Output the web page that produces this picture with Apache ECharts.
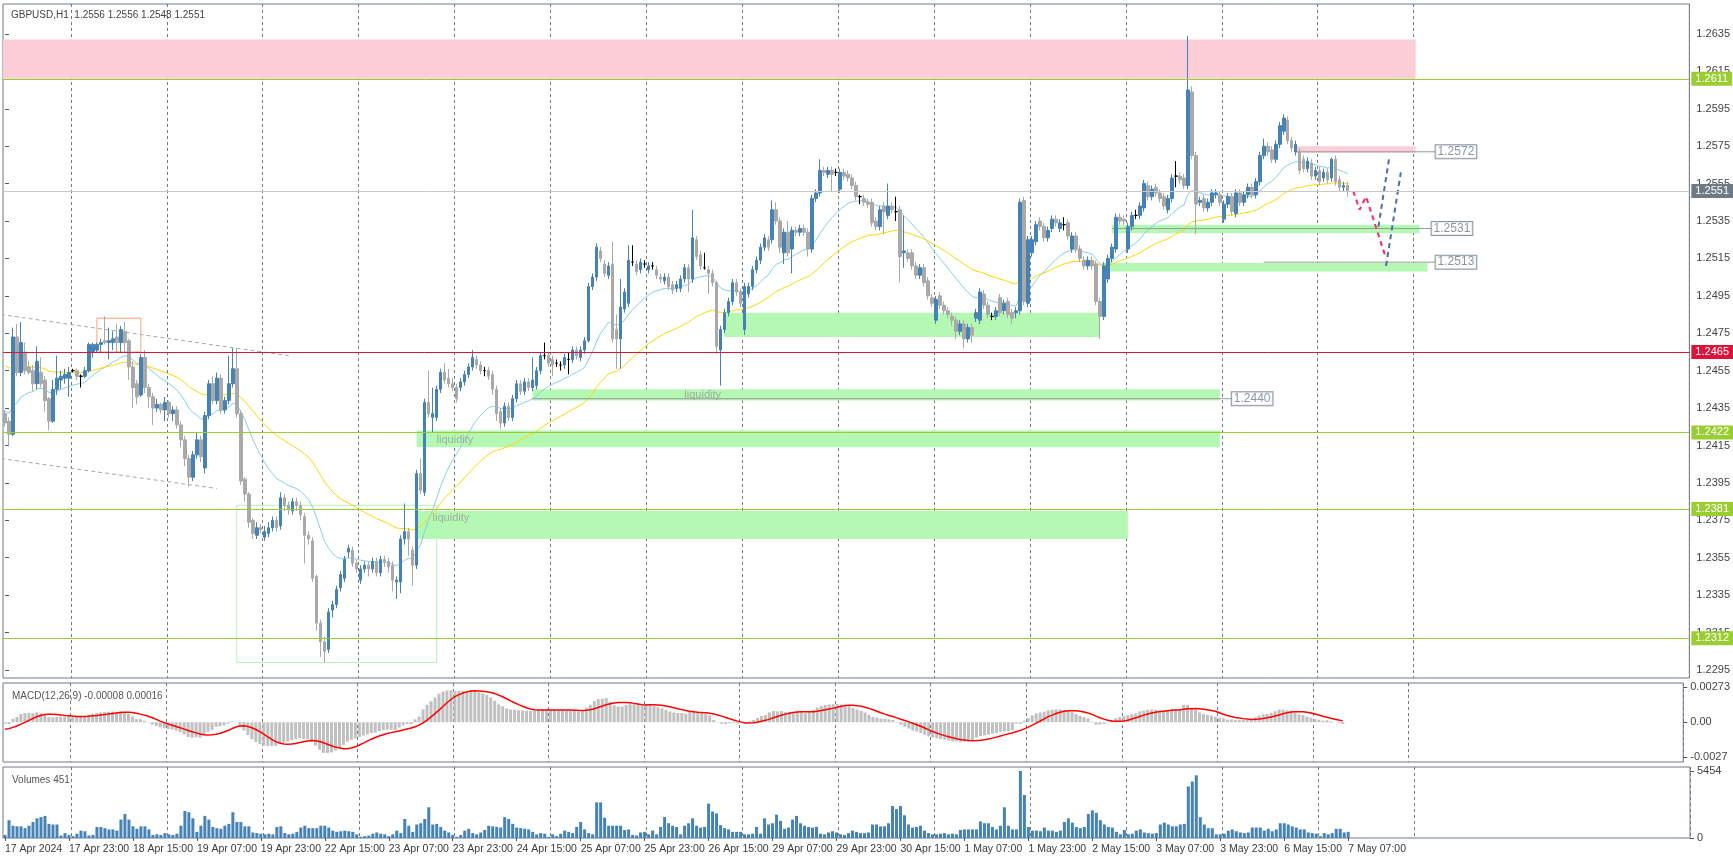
<!DOCTYPE html>
<html><head><meta charset="utf-8">
<script src="https://cdn.jsdelivr.net/npm/echarts@6/dist/echarts.min.js"></script>
<style>html,body{margin:0;padding:0;background:#fff}#c{width:1733px;height:862px}</style>
</head><body><div id="c"></div>
<script>
// candles: [open, close, low, high] in pips (1.2432 -> 2432)
const candles = [
[2432,2427,2425,2434],[2428,2421,2415,2430],[2421,2473,2420,2478],[2473,2454,2452,2480],[2454,2470,2452,2481],
[2465,2455,2453,2470],[2457,2454,2453,2460],[2455,2448,2444,2458],[2448,2460,2445,2468],[2454,2448,2446,2462],
[2450,2439,2433,2452],[2440,2428,2423,2441],[2428,2445,2427,2450],[2445,2451,2442,2463],[2450,2452,2445,2455],
[2451,2453,2448,2456],[2451,2454,2441,2457],[2455,2455,2454,2456],[2455,2452,2450,2456],[2452,2452,2446,2453],
[2452,2455,2451,2457],[2455,2469,2454,2470],[2465,2469,2462,2470],[2466,2469,2465,2470],[2469,2470,2465,2472],
[2471,2470,2469,2484],[2470,2471,2461,2478],[2470,2472,2466,2476],[2473,2470,2465,2480],[2470,2477,2465,2479],
[2476,2470,2465,2481],[2471,2457,2450,2472],[2457,2446,2435,2460],[2448,2441,2437,2450],[2442,2462,2441,2464],
[2462,2446,2443,2466],[2446,2441,2435,2448],[2441,2435,2426,2443],[2435,2437,2433,2440],[2437,2434,2432,2438],
[2434,2438,2428,2441],[2438,2432,2430,2439],[2432,2434,2428,2436],[2434,2426,2424,2436],[2426,2418,2414,2428],
[2418,2408,2404,2420],[2408,2398,2393,2410],[2398,2410,2396,2412],[2410,2418,2408,2422],[2418,2409,2406,2420],
[2403,2431,2400,2433],[2431,2448,2429,2450],[2448,2439,2437,2452],[2439,2451,2437,2454],[2451,2434,2432,2453],
[2434,2439,2432,2441],[2439,2448,2437,2463],[2448,2456,2446,2467],[2456,2432,2430,2467],[2432,2396,2394,2434],
[2397,2389,2385,2398],[2389,2374,2371,2390],[2375,2368,2365,2376],[2367,2371,2365,2374],[2371,2370,2368,2373],
[2366,2369,2364,2372],[2368,2371,2366,2374],[2371,2375,2369,2377],[2375,2371,2369,2377],[2372,2387,2370,2390],
[2387,2383,2380,2389],[2383,2381,2378,2385],[2380,2385,2378,2387],[2385,2383,2380,2387],[2383,2378,2375,2385],
[2377,2367,2352,2379],[2367,2365,2362,2369],[2364,2344,2342,2366],[2345,2320,2316,2346],[2320,2310,2302,2322],
[2310,2305,2299,2313],[2306,2326,2304,2328],[2327,2330,2323,2332],[2330,2338,2328,2340],[2339,2346,2337,2348],
[2344,2354,2342,2356],[2358,2360,2355,2362],[2359,2352,2350,2361],[2352,2349,2347,2354],[2343,2349,2341,2351],
[2349,2351,2347,2353],[2351,2349,2345,2353],[2349,2353,2347,2355],[2353,2347,2345,2355],[2347,2354,2345,2356],
[2354,2353,2350,2356],[2353,2350,2347,2355],[2351,2343,2337,2353],[2342,2343,2333,2345],[2342,2365,2336,2367],
[2365,2369,2362,2384],[2369,2365,2356,2371],[2359,2351,2340,2361],[2351,2400,2349,2402],[2400,2391,2389,2408],
[2390,2438,2388,2440],[2438,2432,2430,2455],[2430,2432,2422,2446],[2430,2445,2428,2447],[2445,2454,2443,2456],
[2454,2450,2448,2459],[2451,2448,2446,2456],[2448,2446,2444,2451],[2446,2440,2438,2448],[2446,2449,2444,2451],
[2449,2453,2447,2455],[2453,2457,2451,2459],[2457,2462,2455,2466],[2461,2458,2456,2463],[2458,2455,2453,2460],
[2455,2455,2452,2457],[2455,2452,2450,2457],[2453,2445,2442,2455],[2445,2432,2428,2447],[2433,2427,2424,2435],
[2427,2436,2425,2438],[2436,2430,2428,2438],[2430,2440,2428,2442],[2440,2448,2438,2450],[2448,2444,2442,2450],
[2444,2449,2442,2451],[2449,2446,2444,2451],[2446,2450,2444,2462],[2447,2455,2445,2457],[2455,2463,2453,2465],
[2463,2463,2461,2470],[2463,2459,2457,2465],[2461,2458,2452,2463],[2459,2459,2457,2461],[2458,2458,2455,2460],
[2458,2462,2456,2464],[2461,2461,2453,2465],[2461,2466,2459,2468],[2466,2463,2461,2468],[2462,2466,2460,2468],
[2466,2471,2464,2473],[2471,2500,2470,2502],[2500,2505,2498,2507],[2505,2521,2503,2523],[2519,2515,2513,2521],
[2512,2507,2505,2514],[2506,2511,2504,2513],[2512,2472,2470,2524],[2477,2472,2456,2485],[2472,2489,2456,2504],
[2488,2497,2486,2499],[2491,2514,2489,2522],[2513,2513,2511,2522],[2512,2508,2506,2514],[2509,2513,2507,2515],
[2512,2512,2510,2514],[2509,2511,2507,2513],[2511,2511,2509,2513],[2509,2506,2504,2511],[2505,2504,2502,2507],
[2503,2505,2501,2507],[2505,2500,2498,2507],[2501,2498,2496,2503],[2499,2501,2497,2503],[2499,2504,2497,2506],
[2504,2510,2502,2512],[2510,2504,2497,2512],[2504,2526,2502,2541],[2525,2516,2514,2527],[2517,2511,2509,2519],
[2510,2510,2509,2518],[2509,2507,2496,2511],[2507,2502,2500,2509],[2502,2468,2464,2503],[2466,2477,2447,2479],
[2477,2486,2475,2488],[2486,2492,2484,2494],[2492,2502,2490,2504],[2502,2497,2495,2504],[2497,2491,2489,2499],
[2477,2500,2474,2502],[2496,2500,2494,2502],[2500,2509,2498,2511],[2509,2514,2507,2516],[2514,2521,2512,2523],
[2521,2526,2519,2528],[2525,2521,2519,2527],[2525,2541,2523,2546],[2541,2535,2533,2545],[2535,2521,2518,2537],
[2518,2529,2512,2531],[2529,2518,2516,2535],[2520,2530,2507,2532],[2530,2529,2527,2532],[2529,2531,2527,2533],
[2531,2529,2527,2533],[2529,2520,2516,2531],[2520,2547,2518,2549],[2547,2550,2545,2552],[2550,2562,2548,2568],
[2562,2561,2559,2564],[2560,2562,2558,2564],[2562,2560,2551,2564],[2561,2561,2559,2563],[2552,2561,2550,2563],
[2561,2559,2557,2563],[2560,2558,2556,2562],[2558,2554,2552,2560],[2554,2548,2546,2556],[2548,2548,2544,2549],
[2547,2545,2543,2549],[2545,2544,2542,2547],[2545,2534,2532,2547],[2535,2532,2530,2537],[2532,2541,2530,2543],
[2543,2540,2528,2545],[2538,2543,2536,2555],[2543,2541,2539,2545],[2540,2540,2535,2548],[2541,2516,2502,2543],
[2518,2519,2510,2538],[2518,2515,2513,2520],[2518,2511,2509,2520],[2511,2506,2504,2513],[2506,2510,2504,2512],
[2510,2502,2500,2512],[2503,2495,2493,2505],[2494,2491,2489,2496],[2482,2493,2480,2495],[2495,2490,2488,2497],
[2490,2487,2485,2492],[2487,2485,2483,2489],[2484,2482,2479,2486],[2482,2476,2472,2484],[2476,2480,2474,2482],
[2480,2472,2467,2482],[2472,2478,2470,2480],[2478,2474,2470,2480],[2483,2486,2481,2488],[2482,2497,2480,2499],
[2496,2490,2488,2498],[2490,2485,2483,2492],[2484,2484,2482,2486],[2484,2487,2482,2489],[2494,2486,2484,2496],
[2487,2491,2485,2493],[2492,2485,2483,2494],[2486,2483,2480,2488],[2486,2487,2483,2489],[2487,2545,2485,2547],
[2546,2492,2490,2548],[2491,2525,2489,2527],[2518,2525,2516,2527],[2524,2533,2522,2535],[2535,2532,2530,2537],
[2532,2526,2524,2534],[2526,2530,2524,2532],[2531,2536,2529,2538],[2536,2534,2532,2538],[2531,2534,2529,2536],
[2533,2533,2530,2537],[2534,2527,2525,2536],[2520,2527,2518,2529],[2527,2520,2518,2529],[2520,2515,2513,2522],
[2514,2511,2509,2516],[2511,2514,2509,2516],[2514,2511,2509,2516],[2512,2492,2490,2514],[2492,2484,2472,2494],
[2484,2511,2482,2513],[2504,2515,2502,2517],[2515,2521,2513,2523],[2520,2537,2518,2539],[2537,2535,2533,2539],
[2536,2535,2533,2538],[2520,2532,2518,2534],[2532,2538,2530,2540],[2538,2538,2536,2541],[2538,2543,2536,2545],
[2542,2555,2540,2557],[2554,2548,2546,2556],[2548,2552,2546,2554],[2553,2550,2548,2555],[2550,2547,2545,2552],
[2548,2543,2541,2550],[2541,2547,2539,2549],[2547,2558,2545,2560],[2559,2559,2553,2567],[2559,2557,2555,2561],
[2558,2554,2552,2560],[2554,2605,2552,2634],[2604,2570,2568,2607],[2570,2544,2528,2572],[2545,2546,2543,2548],
[2547,2542,2540,2549],[2542,2545,2540,2547],[2545,2550,2543,2552],[2549,2550,2547,2552],[2549,2545,2543,2551],
[2536,2544,2534,2546],[2544,2548,2542,2550],[2548,2540,2538,2550],[2539,2550,2537,2552],[2550,2545,2543,2552],
[2545,2549,2543,2551],[2549,2553,2547,2555],[2553,2549,2547,2555],[2549,2556,2547,2558],[2556,2570,2554,2572],
[2570,2575,2568,2579],[2575,2572,2570,2577],[2573,2568,2566,2575],[2568,2576,2566,2578],[2576,2586,2574,2588],
[2583,2590,2581,2592],[2589,2578,2576,2591],[2578,2574,2572,2580],[2572,2576,2570,2578],[2572,2562,2560,2574],
[2568,2563,2561,2570],[2563,2567,2561,2569],[2566,2559,2557,2568],[2559,2562,2557,2564],[2562,2556,2554,2564],
[2558,2561,2556,2563],[2561,2557,2555,2563],[2558,2568,2556,2569],[2568,2556,2554,2570],[2557,2553,2551,2559],
[2553,2554,2551,2556],[2554,2551,2548,2556]
];
const volumes = [
250,1450,1000,950,950,800,1000,1300,1600,1700,1800,1150,1100,1100,200,400,250,
150,350,600,550,200,250,900,900,800,700,700,600,1500,1950,1500,950,750,950,950,700,250,300,250,400,
300,250,350,1000,2200,2100,1600,500,1000,1800,1500,900,800,750,1000,1150,2100,1300,1300,950,950,450,400,350,
300,350,300,900,950,400,300,350,500,850,1000,800,800,800,1000,1000,850,600,500,550,600,550,500,300,
100,150,200,350,450,350,300,150,300,600,400,1550,1000,500,1100,1200,1550,2500,1100,1150,900,600,450,250,
100,250,600,750,400,300,450,650,1000,950,900,850,1700,1550,1150,850,800,750,700,500,300,400,350,100,
300,150,350,600,500,400,900,1300,700,400,300,2900,2900,1650,1000,1000,1000,1000,650,700,250,200,450,500,
300,600,300,900,1700,1200,1000,900,
300,1000,1200,1600,1000,850,900,2800,2150,2000,1050,800,700,500,500,500,
300,300,350,900,350,1600,1100,1200,1900,1400,750,850,1500,1800,1200,1000,900,850,900,350,300,450,550,450,
300,250,400,600,500,400,400,450,1100,1100,950,950,1200,2600,2350,2600,1850,1100,850,900,1000,600,400,300,
300,350,400,300,350,300,650,700,700,700,700,1350,1200,1200,900,700,1000,2500,1000,700,700,5454,3500,900,
600,600,550,850,600,600,500,600,1300,1600,1250,900,800,900,1950,2250,2050,1450,1100,900,850,500,300,650,
300,350,600,700,450,400,350,400,1100,1250,1100,950,950,1100,1150,4200,4600,5100,1700,1100,800,800,300,300,
350,600,700,550,450,400,450,850,850,850,600,750,550,700,1200,1200,1100,950,850,700,700,450,400,350,150,400,300,400,750,750,450,500
];
const priceTicks = [1.2295,1.2315,1.2335,1.2355,1.2375,1.2395,1.2415,1.2435,1.2455,1.2475,1.2495,1.2515,1.2535,1.2555,1.2575,1.2595,1.2615,1.2635];
const macdTicks = [0.00273, 0, -0.0027];
const macdTickText = ['0.00273','0.00','-0.0027'];
const volTicks = [5454, 0];
const levelLines = [ // price, line colour, tag colour
  [2611,'#9acd32','#9acd32'],[2551,'#c8c8c8','#6e7a86'],[2465,'#dc143c','#dc143c'],
  [2422,'#9acd32','#9acd32'],[2381,'#9acd32','#9acd32'],[2312,'#9acd32','#9acd32']];
// zones: [x0, x1, priceLow, priceHigh, kind]
const zones = [
  [-1,353,2611,2632,'pink'],[323,353,2571.5,2575,'pink'],
  [277,354,2528.5,2533,'green'],[275,356,2508,2512.5,'green'],
  [180,274,2473,2486,'green'],[132,304,2439,2445,'green'],[103,304,2414,2423,'green'],[103,281,2365,2380,'green']];
const outlineBoxes = [[58,108,2299,2383,'#b4f5b4'],[23,34,2465,2483,'#ffa07a']];
const trendLines = [[[-1,2485],[71,2463]],[[-1,2408],[53,2392]]];
const redPath = [[337.4,2551],[339,2541],[340.6,2548],[345.6,2515]];
const bluePaths = [[[343.7,2532],[346.4,2569]],[[345.6,2511],[349.3,2561]]];
const levelBoxes = [[323,355,358,2572,'1.2572'],[277,354,357,2531,'1.2531'],[315,355,358,2513,'1.2513'],[132,304,307,2440,'1.2440']];
const liquidityTexts = [[170,2442],[108,2418],[107,2376]];

const P = v => 1 + v/10000;
const N = 422;
const LAST_LABEL = 336, LAST_GRID = 356;
const mon = ['Jan','Feb','Mar','Apr','May','Jun','Jul','Aug','Sep','Oct','Nov','Dec'];
const cats = [], hours = [];
let t = Date.UTC(2024,3,17,7);
while (cats.length < N) {
  const d = new Date(t);
  const wd = d.getUTCDay();
  if (wd !== 0 && wd !== 6) {
    hours.push(d.getUTCHours());
    cats.push(cats.length === 0 ? d.getUTCDate()+' '+mon[d.getUTCMonth()]+' '+d.getUTCFullYear()
      : d.getUTCDate()+' '+mon[d.getUTCMonth()]+' '+String(d.getUTCHours()).padStart(2,'0')+':00');
  }
  t += 3600000;
}
const closes = candles.map(c => P(c[1]));
function ema(src, n, seed) { const k = 2/(n+1); let e = seed; return src.map(v => (e = e + k*(v-e))); }
const maFast = ema(closes, 20, P(2434));
const maSlow = ema(closes, 50, P(2459));
const e12 = ema(closes, 12, closes[0]), e26 = ema(closes, 26, closes[0]+0.0001);
const macd = e12.map((v,i) => v - e26[i]);
const macdHist = new Array(8).fill(-0.0006).concat(macd);
const signal = macd.map((v,i) => { let s=0; for (let j=0;j<9;j++) s+=macdHist[i+j]; return s/9; });

const candleData = candles.map(c => {
  const item = {value:[P(c[0]),P(c[1]),P(c[2]),P(c[3])]};
  if (c[0] === c[1]) item.itemStyle = {color:'#000',color0:'#000',borderColor:'#000',borderColor0:'#000'};
  return item;
});
const font = 'Liberation Sans';
const gridLineColor = '#6c7a89';
const split = {show:true, interval:(i)=>hours[i]===0 && i>0 && i<=LAST_GRID, lineStyle:{color:gridLineColor,type:[3,3],width:1}};
const labelOn = (i)=> i%16===0 && i<=LAST_LABEL;
function catAxis(g, showLabel){
  return {type:'category', gridIndex:g, data:cats, boundaryGap:true,
    axisLine:{show:false}, axisTick:{show:showLabel, interval:labelOn, alignWithLabel:true, length:3, lineStyle:{color:'#555'}},
    axisLabel:{show:showLabel, interval:labelOn, hideOverlap:false, align:'left', margin:6, fontSize:10.5, color:'#3a3a3a', fontFamily:font},
    splitLine:split};
}
const series = [];
series.push({type:'candlestick', xAxisIndex:0, yAxisIndex:0, data:candleData, barWidth:3,
  itemStyle:{color:'#4682b4',color0:'#a9a9a9',borderColor:'#4682b4',borderColor0:'#a9a9a9',borderWidth:1}, z:3});
series.push({type:'line', xAxisIndex:0, yAxisIndex:0, data:maFast, showSymbol:false, lineStyle:{color:'#87ceeb',width:1}, z:2});
series.push({type:'line', xAxisIndex:0, yAxisIndex:0, data:maSlow, showSymbol:false, lineStyle:{color:'#ffd700',width:1}, z:2});
// zones + level lines
series.push({type:'line', xAxisIndex:1, yAxisIndex:0, data:[[0,P(2500.5)]], showSymbol:false, lineStyle:{width:0}, z:0,
  markArea:{silent:true, animation:false, data: zones.map(z => [
    {xAxis:z[0], yAxis:P(z[2]), itemStyle:{color: z[4]==='pink' ? '#fbcdd6' : '#b4f8b4'}},
    {xAxis:z[1], yAxis:P(z[3])}]).concat(outlineBoxes.map(b => [
    {xAxis:b[0], yAxis:P(b[2]), itemStyle:{color:'rgba(0,0,0,0)', borderColor:b[4], borderWidth:1}},
    {xAxis:b[1], yAxis:P(b[3])}]))}});
series.push({type:'line', xAxisIndex:1, yAxisIndex:0, data:[[0,P(2500.5)]], showSymbol:false, lineStyle:{width:0}, z:1,
  markLine:{silent:true, symbol:'none', animation:false, precision:5,
    data: levelLines.map(l => ({yAxis:P(l[0]), lineStyle:{color:l[1],width:1,type:'solid'},
      label:{show:true, position:'end', distance:2, formatter:P(l[0]).toFixed(4), color:'#fff', backgroundColor:l[2],
        padding:[2,4,1,4], fontSize:11, fontFamily:font}}))}});
trendLines.forEach(tl => series.push({type:'line', xAxisIndex:1, yAxisIndex:0, data:tl.map(p=>[p[0],P(p[1])]), showSymbol:false,
  lineStyle:{color:'#a8a8a8',width:1,type:[4,3]}, z:1}));
series.push({type:'line', xAxisIndex:1, yAxisIndex:0, data:redPath.map(p=>[p[0],P(p[1])]), showSymbol:false,
  lineStyle:{color:'#ff2a6d',width:2,type:[5,4]}, z:4});
bluePaths.forEach(bp => series.push({type:'line', xAxisIndex:1, yAxisIndex:0, data:bp.map(p=>[p[0],P(p[1])]), showSymbol:false,
  lineStyle:{color:'#4a6fa5',width:2,type:[5,4]}, z:4}));
levelBoxes.forEach(b => {
  series.push({type:'line', xAxisIndex:1, yAxisIndex:0, data:[[b[0],P(b[3])],[b[2],P(b[3])]], showSymbol:false,
    lineStyle:{color:'#9a9a9a',width:1}, z:2});
  series.push({type:'scatter', xAxisIndex:1, yAxisIndex:0, data:[[b[2],P(b[3])]], symbolSize:0, z:5,
    label:{show:true, position:'right', distance:0, formatter:b[4], color:'#6c7a89', fontSize:12, fontFamily:font,
      backgroundColor:'#fff', borderColor:'#6c7a89', borderWidth:1, padding:[1,2,0,2]}});
});
series.push({type:'scatter', xAxisIndex:1, yAxisIndex:0, data:liquidityTexts.map(p=>[p[0],P(p[1])]), symbolSize:0, z:5,
  label:{show:true, position:'right', distance:0, formatter:'liquidity', color:'#9a9a9a', fontSize:11, fontFamily:font}});
// MACD
series.push({type:'bar', xAxisIndex:2, yAxisIndex:1, data:macd, barWidth:3, itemStyle:{color:'#c0c0c0'}});
series.push({type:'line', xAxisIndex:2, yAxisIndex:1, data:signal, showSymbol:false, lineStyle:{color:'#ff0000',width:1.5}});
// Volumes
series.push({type:'bar', xAxisIndex:3, yAxisIndex:2, data:volumes, barWidth:3, itemStyle:{color:'#4682b4'}});

const yLabel = {fontSize:11, color:'#444', fontFamily:font, margin:7};
const chart = echarts.init(document.getElementById('c'));
chart.setOption({
  animation:false, backgroundColor:'#fff',
  textStyle:{fontFamily:font},
  title:[
    {text:'GBPUSD,H1  1.2556 1.2556 1.2548 1.2551', left:6, top:5, textStyle:{fontSize:10, fontWeight:'normal', color:'#444', fontFamily:font}},
    {text:'MACD(12,26,9) -0.00008 0.00016', left:7, top:686, textStyle:{fontSize:10, fontWeight:'normal', color:'#555', fontFamily:font}},
    {text:'Volumes 451', left:7, top:770, textStyle:{fontSize:10, fontWeight:'normal', color:'#555', fontFamily:font}}],
  grid:[
    {left:3, top:4, width:1687, height:674, show:true, borderColor:'#6c7a89', borderWidth:1},
    {left:3, top:683, width:1687, height:79, show:true, borderColor:'#6c7a89', borderWidth:1},
    {left:3, top:767, width:1687, height:71, show:true, borderColor:'#6c7a89', borderWidth:1}],
  xAxis:[
    catAxis(0,false),
    {type:'value', gridIndex:0, min:-0.5, max:N-0.5, show:false},
    catAxis(1,false),
    catAxis(2,true)],
  yAxis:[
    {type:'value', gridIndex:0, position:'right', min:1.22907, max:1.26510, scale:true, splitLine:{show:false},
      axisLine:{show:false}, axisTick:{show:true, customValues:priceTicks, length:4, lineStyle:{color:'#555'}},
      axisLabel:Object.assign({customValues:priceTicks, formatter:v=>v.toFixed(4)}, yLabel)},
    {type:'value', gridIndex:1, position:'right', min:-0.00306, max:0.00302, splitLine:{show:false},
      axisLine:{show:false}, axisTick:{show:true, customValues:macdTicks, length:4, lineStyle:{color:'#555'}},
      axisLabel:Object.assign({customValues:macdTicks, formatter:v=>{const k=macdTicks.findIndex(m=>Math.abs(m-v)<1e-7);return k>=0?macdTickText[k]:'';}}, yLabel)},
    {type:'value', gridIndex:2, position:'right', min:0, max:5780, splitLine:{show:false},
      axisLine:{show:false}, axisTick:{show:true, customValues:volTicks, length:4, lineStyle:{color:'#555'}},
      axisLabel:Object.assign({customValues:volTicks, formatter:v=>String(v)}, yLabel)}],
  series:series
});
</script></body></html>
